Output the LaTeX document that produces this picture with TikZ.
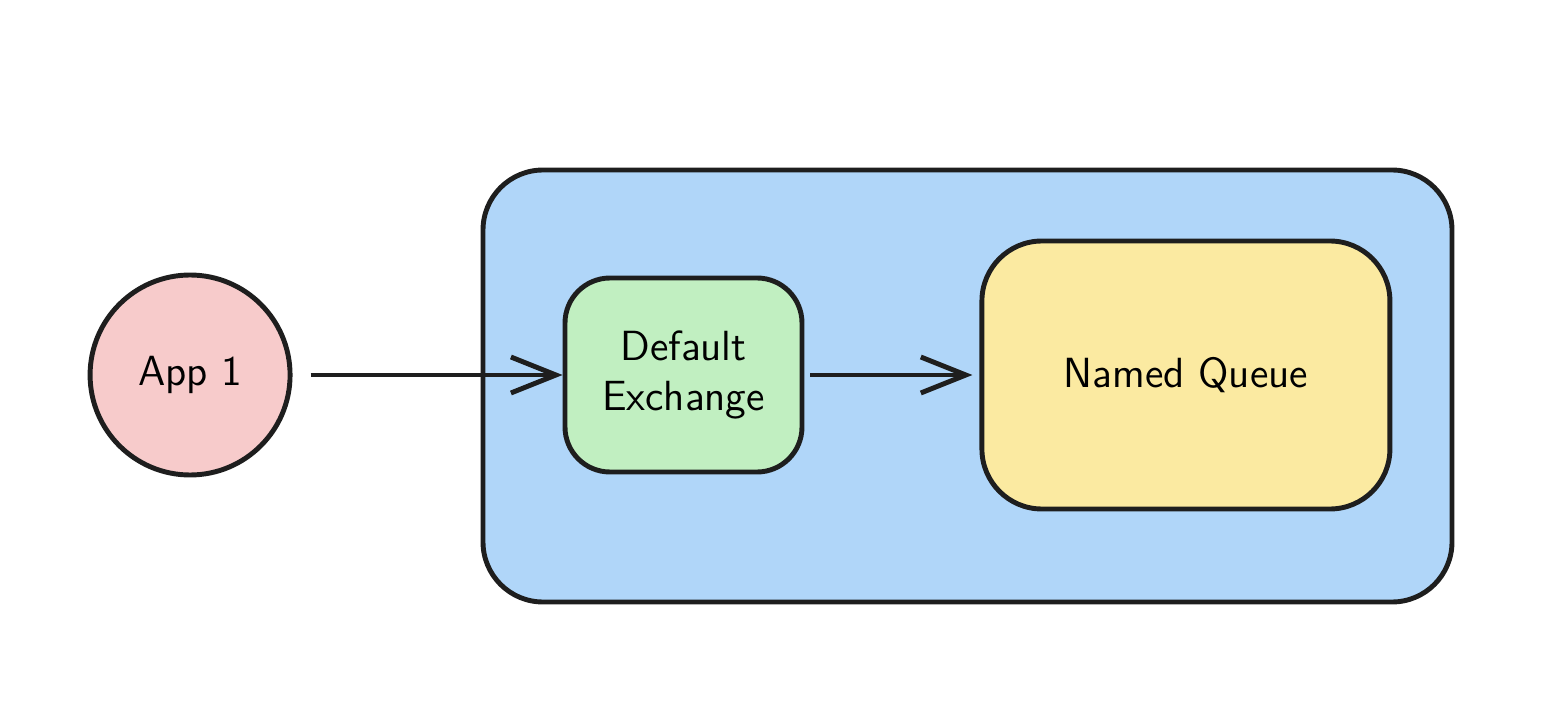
\documentclass[tikz,border=0pt]{standalone}
\usetikzlibrary{positioning}
\usetikzlibrary{arrows.meta}
\begin{document}
\begin{tikzpicture}[->,>={Straight Barb[length=4.5mm,width=3.6mm]},line width=1.4pt,
	node distance=2.7cm,
	main node/.style={draw=ink,rounded corners=5mm,font=\sffamily\large,align=center}]
	
	\definecolor{ink}{RGB}{30,30,30}
	\definecolor{apppink}{RGB}{247,203,203}
	\definecolor{brokerblue}{RGB}{176,214,249}
	\definecolor{exgreen}{RGB}{193,239,193}
	\definecolor{queueyellow}{RGB}{251,234,161}
	
	\useasboundingbox (0,0) rectangle (15.64,7.24);
	
	\node[main node, fill=brokerblue, minimum width=9.69cm, minimum height=4.32cm, rounded corners=6mm] (broker) at (9.675,3.38) {};
	\node[main node, fill=exgreen, minimum width=2.37cm, minimum height=1.94cm, rounded corners=4.5mm] (exchange) at (6.835,3.49) {Default\\Exchange};
	\node[main node, circle, fill=apppink, minimum size=2.0cm] (app) [left=2.7cm of exchange] {App 1};
	\node[main node, fill=queueyellow, minimum width=4.08cm, minimum height=2.68cm, rounded corners=6mm] (queue) [right=1.75cm of exchange] {Named Queue};
	
	\path[draw=ink]
	(app) edge [shorten <=1.8mm] (exchange)
	(exchange) edge [shorten <=0.6mm, shorten >=0.7mm] (queue);
\end{tikzpicture}
\end{document}
